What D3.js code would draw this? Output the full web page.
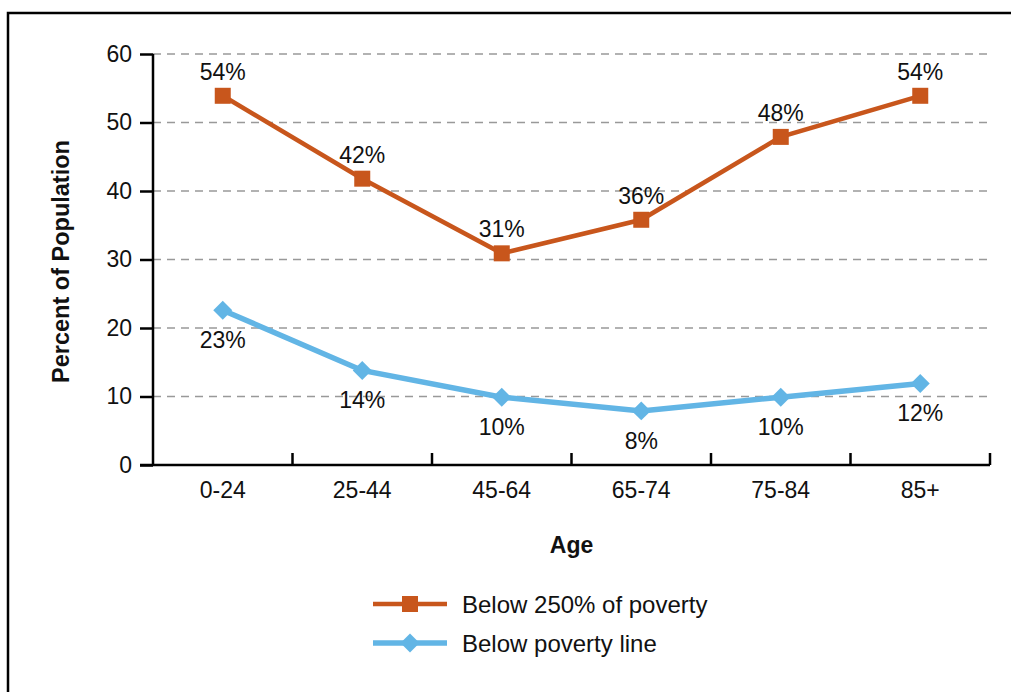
<!DOCTYPE html>
<html><head><meta charset="utf-8">
<script src="https://cdn.jsdelivr.net/npm/d3@7"></script>
<style>body{margin:0;background:#fff;} text{font-family:"Liberation Sans",Arial,Helvetica,sans-serif;fill:#111;}</style>
</head><body>
<svg id="chart" width="1011" height="692"></svg>
<script>
const categories = ["0-24","25-44","45-64","65-74","75-84","85+"];
const below250 = [53.9, 41.8, 30.9, 35.8, 47.9, 53.9];
const below250Labels = ["54%","42%","31%","36%","48%","54%"];
const belowPoverty = [22.6, 13.8, 9.9, 7.9, 9.9, 11.9];
const belowPovertyLabels = ["23%","14%","10%","8%","10%","12%"];
const yTicks = [0,10,20,30,40,50,60];
const seriesNames = ["Below 250% of poverty","Below poverty line"];

const orange = "#C8561C", blue = "#62B5E5";
const svg = d3.select("#chart");
const W = 1011, H = 692;
const m = {left:153, right:1011-990, top:54, bottom:692-465};

// frame
svg.append("rect").attr("x",8).attr("y",13).attr("width",1100).attr("height",800)
  .attr("fill","none").attr("stroke","#000").attr("stroke-width",2.5);

const x = d3.scaleBand().domain(categories).range([m.left, W-m.right]);
const y = d3.scaleLinear().domain([0,60]).range([H-m.bottom, m.top]);

// grid
svg.append("g").selectAll("line").data(yTicks.filter(d=>d>0)).join("line")
  .attr("x1",m.left).attr("x2",988).attr("y1",d=>y(d)).attr("y2",d=>y(d))
  .attr("stroke","#999").attr("stroke-width",1.3).attr("stroke-dasharray","8,6");

// y axis
const ya = svg.append("g").attr("transform",`translate(${m.left},0)`)
  .call(d3.axisLeft(y).tickValues(yTicks).tickSize(13).tickPadding(8));
ya.select(".domain").attr("stroke","#000").attr("stroke-width",2.5).attr("d",`M0,${y(60)}V${y(0)}`);
ya.selectAll(".tick line").attr("stroke","#000").attr("stroke-width",2.5);
ya.selectAll("text").attr("font-size",23).attr("fill","#111").attr("font-family","Liberation Sans, Arial");

// x axis
const xa = svg.append("g").attr("transform",`translate(0,${y(0)})`);
xa.append("line").attr("x1",m.left-13).attr("x2",W-m.right).attr("y1",0).attr("y2",0)
  .attr("stroke","#000").attr("stroke-width",2.5);
xa.selectAll("line.tk").data(categories).join("line").attr("class","tk")
  .attr("x1",d=>x(d)+x.bandwidth()).attr("x2",d=>x(d)+x.bandwidth()).attr("y1",0).attr("y2",-12)
  .attr("stroke","#000").attr("stroke-width",2.5);
xa.selectAll("text").data(categories).join("text")
  .attr("x",d=>x(d)+x.bandwidth()/2).attr("y",33).attr("text-anchor","middle")
  .attr("font-size",23).text(d=>d);

// axis titles
svg.append("text").attr("transform",`translate(69,${(y(0)+y(60))/2+2}) rotate(-90)`)
  .attr("text-anchor","middle").attr("font-weight","bold").attr("font-size",23.5).text("Percent of Population");
svg.append("text").attr("x",(m.left+W-m.right)/2).attr("y",553).attr("text-anchor","middle")
  .attr("font-weight","bold").attr("font-size",23).text("Age");

const cx = d=>x(d)+x.bandwidth()/2;
const line = d3.line().x(d=>cx(d[0])).y(d=>y(d[1]));

// orange series
const oData = categories.map((c,i)=>[c,below250[i],below250Labels[i]]);
svg.append("path").datum(oData).attr("d",line).attr("fill","none").attr("stroke",orange).attr("stroke-width",4.5);
svg.selectAll("rect.om").data(oData).join("rect").attr("class","om")
  .attr("x",d=>cx(d[0])-8).attr("y",d=>y(d[1])-8).attr("width",16).attr("height",16).attr("fill",orange);
svg.selectAll("text.ol").data(oData).join("text").attr("class","ol")
  .attr("x",d=>cx(d[0])).attr("y",d=>y(d[1])-16).attr("text-anchor","middle").attr("font-size",23).text(d=>d[2]);

// blue series
const bData = categories.map((c,i)=>[c,belowPoverty[i],belowPovertyLabels[i]]);
svg.append("path").datum(bData).attr("d",line).attr("fill","none").attr("stroke",blue).attr("stroke-width",5.5);
const diamond = d3.symbol().type(d3.symbolSquare).size(180);
svg.selectAll("path.bm").data(bData).join("path").attr("class","bm")
  .attr("d",diamond).attr("transform",d=>`translate(${cx(d[0])},${y(d[1])}) rotate(45)`).attr("fill",blue);
svg.selectAll("text.bl").data(bData).join("text").attr("class","bl")
  .attr("x",d=>cx(d[0])).attr("y",d=>y(d[1])+38).attr("text-anchor","middle").attr("font-size",23).text(d=>d[2]);

// legend
const leg = svg.append("g");
const ly = [604, 643];
leg.append("line").attr("x1",373).attr("x2",447).attr("y1",ly[0]).attr("y2",ly[0]).attr("stroke",orange).attr("stroke-width",4.5);
leg.append("rect").attr("x",410-8).attr("y",ly[0]-8).attr("width",16).attr("height",16).attr("fill",orange);
leg.append("line").attr("x1",373).attr("x2",447).attr("y1",ly[1]).attr("y2",ly[1]).attr("stroke",blue).attr("stroke-width",5.5);
leg.append("path").attr("d",diamond).attr("transform",`translate(410,${ly[1]}) rotate(45)`).attr("fill",blue);
leg.selectAll("text").data(seriesNames).join("text").attr("x",462).attr("y",(d,i)=>ly[i]+8.5)
  .attr("font-size",24).text(d=>d);
</script>
</body></html>
